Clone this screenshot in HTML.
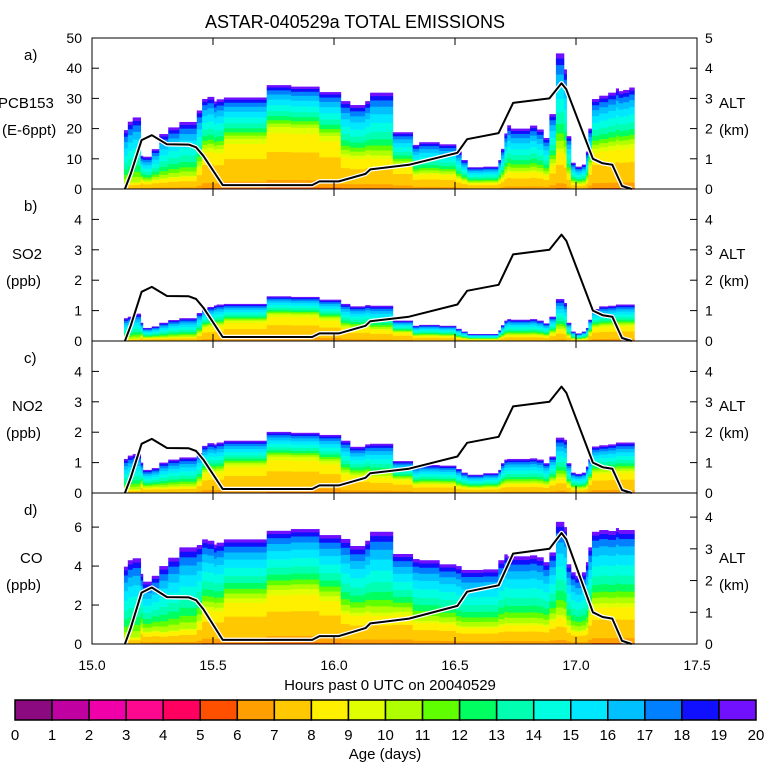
<!DOCTYPE html>
<html><head><meta charset="utf-8"><style>
html,body{margin:0;padding:0;background:#fff}
svg{display:block;font-family:"Liberation Sans",sans-serif}
</style></head><body>
<svg id="chart" width="768" height="768" viewBox="0 0 768 768">
<text x="355" y="28" text-anchor="middle" font-size="18">ASTAR-040529a TOTAL EMISSIONS</text>
<g id="plots"></g>
<g id="cbar"></g>
</svg>
<script>
const bounds=[15.132,15.148,15.168,15.201,15.210,15.247,15.278,15.315,15.361,15.433,15.455,15.477,15.504,15.515,15.545,15.722,15.822,15.939,16.028,16.066,16.129,16.149,16.243,16.325,16.352,16.435,16.504,16.526,16.551,16.617,16.679,16.690,16.704,16.716,16.730,16.810,16.838,16.865,16.890,16.917,16.950,16.961,16.979,16.997,17.024,17.041,17.051,17.066,17.096,17.133,17.165,17.176,17.195,17.220,17.241];
const pcb=[19.5,22.3,23.7,11,10.7,13.2,18.2,20.4,22.2,26,29.8,30.5,29,29.7,30.3,34.4,33.9,32.1,29.1,27.8,29.1,31.9,18.8,14.6,15.5,14.8,12.4,9.6,7.2,7.4,9.6,13.3,18.4,21.1,20,21,19.7,16.9,24.8,44.9,39.6,17.5,8.7,7.4,8.1,12.4,20,29.8,30.9,31.9,33.3,32.4,32.8,33.6];
const so2=[0.75,0.8,0.9,0.6,0.43,0.48,0.6,0.69,0.75,0.92,1.05,1.12,1.17,1.2,1.22,1.47,1.45,1.36,1.22,1.14,1.18,1.16,0.67,0.5,0.53,0.5,0.4,0.31,0.23,0.23,0.35,0.52,0.67,0.72,0.7,0.72,0.67,0.58,0.8,1.38,1.25,0.6,0.31,0.25,0.31,0.43,0.7,1.05,1.14,1.16,1.2,1.2,1.2,1.2];
const no2=[1.12,1.23,1.28,1.0,0.76,0.82,1.0,1.1,1.17,1.31,1.55,1.64,1.6,1.66,1.72,2.01,1.98,1.91,1.72,1.52,1.6,1.62,1.05,0.87,0.92,0.9,0.79,0.67,0.6,0.65,0.76,0.98,1.1,1.12,1.12,1.14,1.1,0.98,1.2,1.82,1.75,0.98,0.67,0.63,0.67,0.87,1.12,1.53,1.57,1.6,1.66,1.66,1.66,1.66];
const co=[3.97,4.3,4.4,3.6,3.2,3.5,4.0,4.43,4.96,5.08,5.37,5.3,5.1,5.2,5.37,5.81,5.9,5.59,5.39,5.03,5.3,5.76,4.62,4.36,4.3,4.09,4.0,3.8,3.8,3.83,4.3,4.3,4.6,4.5,4.5,4.55,4.45,4.2,4.7,6.27,6.0,4.09,3.68,3.5,3.68,4.2,4.96,5.76,5.85,5.8,5.95,5.85,5.85,5.85];
const youngFrac=[0.1,0.1,0.1,0.3,0.25,0.25,0.2,0.2,0.2,0.3,0.45,0.45,0.45,0.45,0.55,0.6,0.6,0.55,0.4,0.4,0.4,0.35,0.45,0.35,0.35,0.35,0.3,0.3,0.3,0.3,0.3,0.3,0.3,0.3,0.3,0.3,0.3,0.3,0.35,0.3,0.3,0.3,0.25,0.25,0.25,0.25,0.4,0.45,0.45,0.45,0.45,0.45,0.45,0.45];
const altT=[15.136,15.16,15.205,15.247,15.31,15.40,15.43,15.46,15.54,15.91,15.94,16.02,16.13,16.15,16.31,16.51,16.55,16.68,16.74,16.89,16.94,16.96,17.07,17.11,17.15,17.19,17.23];
const altKm=[0,0.5,1.62,1.78,1.48,1.47,1.38,1.1,0.13,0.13,0.25,0.25,0.5,0.65,0.8,1.2,1.65,1.85,2.85,3.0,3.5,3.3,1.0,0.85,0.8,0.1,0];
const ageColors=["#8b0a80","#c000a0","#f000a8","#ff0890","#ff0060","#ff5000","#ffa000","#ffc800","#fff000","#e0ff00","#b0ff00","#60ff00","#00ff60","#00ffb0","#00ffe0","#00e8ff","#00c0ff","#0080ff","#1010ff","#7010ff"];
const ageLabels=["0","1","2","3","4","5","6","7","8","9","10","11","12","13","14","15","16","17","18","19","20"];
const xTicks=[15.0,15.5,16.0,16.5,17.0,17.5];
const youngW=[0,0,0,0,0,0.03,0.12,0.45,0.3,0.1,0,0,0,0,0,0,0,0,0,0];
const oldW=[0,0,0,0,0,0,0,0,0,0,0.08,0.08,0.1,0.12,0.14,0.14,0.12,0.1,0.07,0.05];

const NS="http://www.w3.org/2000/svg";
const X0=92,X1=697;
const xs=t=>X0+(t-15)/2.5*(X1-X0);
function mk(tag,attrs,parent){const e=document.createElementNS(NS,tag);for(const k in attrs)e.setAttribute(k,attrs[k]);parent.appendChild(e);return e;}
const plots=document.getElementById('plots');
const panels=[
 {letter:"a)",name:"PCB153",unit:"(E-6ppt)",data:pcb,top:38,bot:189,ymax:50,ticks:[0,10,20,30,40,50],altMax:5,altTicks:[0,1,2,3,4,5],yf:1},
 {letter:"b)",name:"SO2",unit:"(ppb)",data:so2,top:189,bot:341,ymax:5,ticks:[0,1,2,3,4],altMax:5,altTicks:[0,1,2,3,4],yf:1},
 {letter:"c)",name:"NO2",unit:"(ppb)",data:no2,top:341,bot:493,ymax:5,ticks:[0,1,2,3,4],altMax:5,altTicks:[0,1,2,3,4],yf:1},
 {letter:"d)",name:"CO",unit:"(ppb)",data:co,top:493,bot:644,ymax:7.75,ticks:[0,2,4,6],altMax:4.76,altTicks:[0,1,2,3,4],yf:0.8}
];
panels.forEach((p,pi)=>{
 const g=mk('g',{},plots);
 
 
 const H=p.bot-p.top;
 const ys=v=>p.bot-v/p.ymax*H;
 const ya=v=>p.bot-v/p.altMax*H;
 const bars=mk('g',{},g);
 
 
 p.data.forEach((v,i)=>{
  const x0=xs(bounds[i]),x1=xs(bounds[i+1]);
  const yfr=Math.min(0.9,youngFrac[i]*p.yf);
  let acc=0;
  for(let a=0;a<20;a++){
   const w=yfr*youngW[a]+(1-yfr)*oldW[a];
   if(w<=0)continue;
   const y0=ys(acc*v),y1=ys((acc+w)*v);
   const r=mk('rect',{x:x0,y:y1,width:x1-x0+0.4,height:Math.max(0,y0-y1)+0.3,fill:ageColors[a]},bars);
   
   
   acc+=w;
  }
 });
 const pts=altT.map((t,i)=>xs(t).toFixed(1)+","+ya(altKm[i]).toFixed(1)).join(" ");
 const ow=mk('polyline',{points:pts,fill:"none",stroke:"#fff","stroke-width":4.5,"stroke-linejoin":"round"},g);
 
 
 const al=mk('polyline',{points:pts,fill:"none",stroke:"#000","stroke-width":2,"stroke-linejoin":"round"},g);
 
 
 const fr=mk('rect',{x:X0,y:p.top,width:X1-X0,height:H,fill:"none",stroke:"#000","stroke-width":1},g);
 
 
 xTicks.forEach(t=>{
  const l1=mk('line',{x1:xs(t),x2:xs(t),y1:p.bot,y2:p.bot-7,stroke:"#000"},g);
  
  
  const l2=mk('line',{x1:xs(t),x2:xs(t),y1:p.top,y2:p.top+7,stroke:"#000"},g);
  
  
 });
 p.ticks.forEach(v=>{
  const l=mk('line',{x1:X0,x2:X0+7,y1:ys(v),y2:ys(v),stroke:"#000"},g);
  
  
  const tx=mk('text',{x:82,y:ys(v)+5,"text-anchor":"end","font-size":14},g);
  tx.textContent=String(v);
  
  
 });
 p.altTicks.forEach(v=>{
  const l=mk('line',{x1:X1,x2:X1-7,y1:ya(v),y2:ya(v),stroke:"#000"},g);
  
  
  const tx=mk('text',{x:705,y:ya(v)+5,"font-size":14},g);
  tx.textContent=String(v);
  
  
 });
 const lt=mk('text',{x:24,y:p.top+22,"font-size":15},g);lt.textContent=p.letter;
 
 
 const n1=mk('text',{x:p.name.length>4?-2:(p.name==="CO"?20:12),y:p.top+70,"font-size":15},g);n1.textContent=p.name;
 
 
 const n2=mk('text',{x:p.unit.length>6?2:6,y:p.top+97,"font-size":15},g);n2.textContent=p.unit;
 
 
 const r1=mk('text',{x:719,y:p.top+70,"font-size":15},g);r1.textContent="ALT";
 
 
 const r2=mk('text',{x:719,y:p.top+97,"font-size":15},g);r2.textContent="(km)";
 
 
});
xTicks.forEach(t=>{
 const tx=mk('text',{x:xs(t),y:670,"text-anchor":"middle","font-size":14},plots);
 tx.textContent=t.toFixed(1);
 
 
});
const xt=mk('text',{x:390,y:690,"text-anchor":"middle","font-size":15},plots);
xt.textContent="Hours past 0 UTC on 20040529";


const cb=document.getElementById('cbar');


const CB0=15,CB1=756,cw=(CB1-CB0)/20;
ageColors.forEach((c,i)=>{
 const r=mk('rect',{x:CB0+i*cw,y:700,width:cw,height:20,fill:c,stroke:"#000","stroke-width":1.5},cb);
 
 
});
ageLabels.forEach((s,i)=>{
 const tx=mk('text',{x:CB0+i*cw,y:740,"text-anchor":"middle","font-size":15},cb);
 tx.textContent=s;
 
 
});
const ct=mk('text',{x:385,y:759,"text-anchor":"middle","font-size":15},cb);
ct.textContent="Age (days)";


</script>
</body></html>
